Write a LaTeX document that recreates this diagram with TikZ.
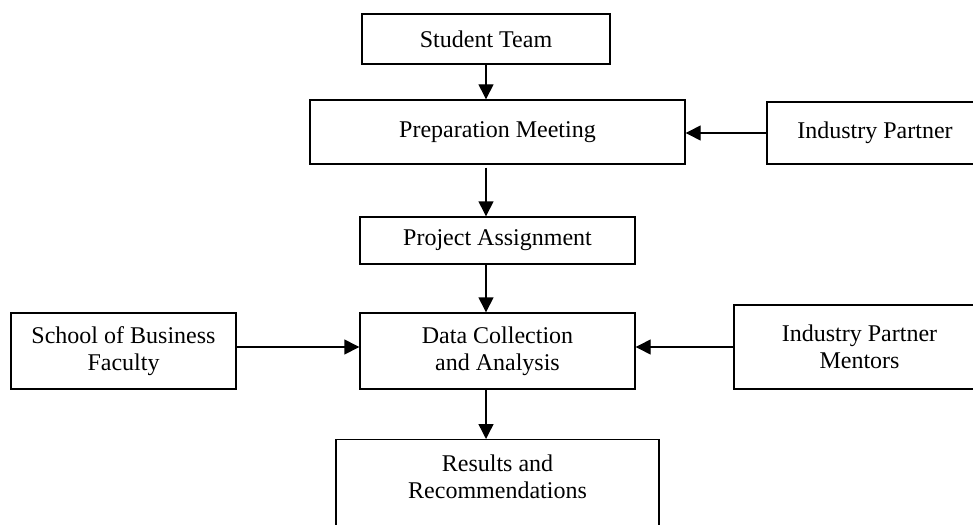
\documentclass[tikz,border=0pt]{standalone}
\usepackage{fontspec}
\setmainfont{Liberation Serif}
\usetikzlibrary{arrows.meta,positioning}

\tikzset{
  box/.style={draw, align=center},
}

\begin{document}
\begin{tikzpicture}[x=1pt,y=-1pt,line width=1.4pt,
    font=\fontsize{24}{27}\selectfont,
    >={Triangle[length=15pt,width=15pt]}]
  \useasboundingbox (0,0) rectangle (973,524);
  \clip (0,0) rectangle (973,524);

  \node[box, minimum width=248pt, minimum height=50pt] (team) at (486,39) {Student Team};
  \node[box, minimum width=375pt, minimum height=64pt] (prep) at (497.5,132) {Preparation Meeting};
  \node[box, minimum width=216pt, minimum height=62pt] (partner) at (875,133) {Industry Partner};
  \node[box, minimum width=275pt, minimum height=47pt] (assign) at (497.5,240.5) {Project Assignment};
  \node[box, minimum width=275pt, minimum height=76pt] (data) at (497.5,351) {Data Collection\\and Analysis};
  \node[box, minimum width=225pt, minimum height=76pt] (school) at (123.5,351) {School of Business\\Faculty};
  \node[box, minimum width=251pt, minimum height=84pt] (mentors) at (859.5,347) {Industry Partner\\Mentors};
  \node[box, anchor=north, minimum width=323pt, minimum height=130pt] (results) at (497.5,439) {};
  \node[align=center] (resultstext) at (497.5,477) {Results and\\Recommendations};

  \draw[->] (team) -- (team |- prep.north);
  \draw[->] (partner) -- (partner -| prep.east);
  \draw[->, shorten <=3pt] (team |- prep.south) -- (team |- assign.north);
  \draw[->] (team |- assign.south) -- (team |- data.north);
  \draw[->] (school.east |- mentors) -- (mentors -| data.west);
  \draw[->] (mentors) -- (mentors -| data.east);
  \draw[->] (team |- data.south) -- (team |- results.north);
\end{tikzpicture}
\end{document}
